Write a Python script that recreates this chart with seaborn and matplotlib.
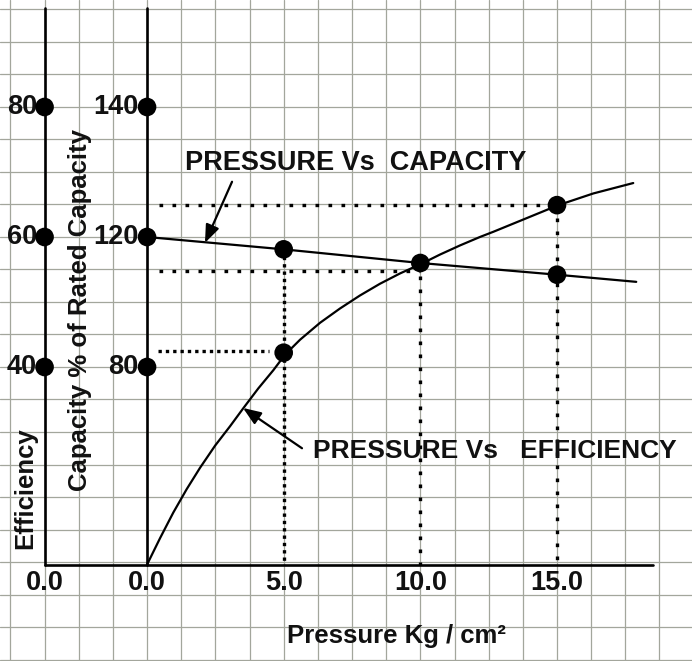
import numpy as np
import pandas as pd
import matplotlib
matplotlib.use("Agg")
import matplotlib.pyplot as plt
import seaborn as sns

# ---- data (x = pressure, y = position on the efficiency scale) ----
eff_pressure = [0.0, 0.48, 0.96, 1.45, 1.94, 2.49, 3.04, 3.53, 4.07, 4.62, 5.05,
                5.60, 6.33, 7.06, 7.79, 8.52, 9.26, 10.05, 10.72, 11.45, 12.18,
                12.67, 13.89, 15.05, 16.33, 17.79]
eff_values = [9.6, 13.7, 17.6, 21.2, 24.5, 27.9, 30.9, 33.7, 36.7, 39.5, 41.9,
              44.2, 46.8, 49.0, 51.0, 52.8, 54.4, 55.9, 57.3, 58.7, 60.0,
              60.8, 62.9, 64.9, 66.7, 68.3]

cap_pressure = [0.0, 5.0, 10.0, 15.0, 17.9]
cap_values = [60.0, 58.1, 56.0, 54.2, 53.1]

cap_pts_x = [5.0, 10.0, 15.0]
cap_pts_y = [58.1, 56.0, 54.2]
eff_pts_x = [5.0, 15.0]
eff_pts_y = [42.2, 64.9]

eff_tick_pos = [80, 60, 40]
eff_tick_labels = ["80", "60", "40"]
cap_tick_labels = ["140", "120", "80"]
x_tick_pos = [5.0, 10.0, 15.0]
x_tick_labels = ["5.0", "10.0", "15.0"]

EFF_AXIS_X = -3.75
BASE_Y = 9.6

sns.set_theme(style="white")
plt.rcParams["font.family"] = ["Liberation Sans", "DejaVu Sans"]

fig = plt.figure(figsize=(6.92, 6.61), dpi=100)
ax = fig.add_axes([0, 0, 1, 1])
ax.set_xlim(-5.38, 19.94)
ax.set_ylim(-5.23, 96.46)
fig.patch.set_facecolor("white")
ax.set_facecolor("white")

# graph-paper grid
ax.set_xticks(np.arange(-5.0, 19.9, 1.25))
ax.set_yticks(np.arange(-5.0, 96.0, 5.0))
ax.tick_params(length=0, labelbottom=False, labelleft=False)
ax.grid(True, color="#a3a69c", linewidth=0.9)
for s in ax.spines.values():
    s.set_visible(False)

lw_axis = 1.9
# axes lines
ax.plot([EFF_AXIS_X, EFF_AXIS_X], [BASE_Y, 95.3], color="black", lw=lw_axis, zorder=3)
ax.plot([0, 0], [BASE_Y, 95.3], color="black", lw=lw_axis, zorder=3)
ax.plot([EFF_AXIS_X, 18.5], [BASE_Y, BASE_Y], color="black", lw=lw_axis, zorder=3)

# dotted guide lines
sparse = dict(color="black", lw=2.4, linestyle=(0, (1.1, 2.8)), zorder=2)
dense = dict(color="black", lw=2.4, linestyle=(0, (1.0, 1.2)), zorder=2)
ax.plot([0.45, 15.0], [64.9, 64.9], **sparse)
ax.plot([15.0, 15.0], [64.9, BASE_Y], **sparse)
ax.plot([0.45, 10.0], [54.8, 54.8], **sparse)
ax.plot([10.0, 10.0], [56.0, BASE_Y], **sparse)
ax.plot([0.40, 4.45], [42.5, 42.5], **dense)
ax.plot([5.0, 5.0], [58.1, BASE_Y], **dense)

# curves
eff_df = pd.DataFrame({"p": eff_pressure, "v": eff_values})
cap_df = pd.DataFrame({"p": cap_pressure, "v": cap_values})
sns.lineplot(data=eff_df, x="p", y="v", ax=ax, color="black", lw=1.6, zorder=4)
sns.lineplot(data=cap_df, x="p", y="v", ax=ax, color="black", lw=1.6, zorder=4)

# points
pts = pd.DataFrame({"p": cap_pts_x + eff_pts_x, "v": cap_pts_y + eff_pts_y})
sns.scatterplot(data=pts, x="p", y="v", ax=ax, color="black", s=180, zorder=5, edgecolor="none")

# tick markers on the two vertical axes
tk = pd.DataFrame({"p": [EFF_AXIS_X] * 3 + [0.0] * 3, "v": eff_tick_pos * 2})
sns.scatterplot(data=tk, x="p", y="v", ax=ax, color="black", s=180, zorder=5, edgecolor="none")

ax.set_xlabel("")
ax.set_ylabel("")

fs = 19.5
fs_lab = 18.5
bold = dict(fontweight="bold", color="#111111")
for pos, lab in zip(eff_tick_pos, eff_tick_labels):
    ax.text(EFF_AXIS_X - 0.28, pos, lab, ha="right", va="center", fontsize=fs, **bold)
for pos, lab in zip(eff_tick_pos, cap_tick_labels):
    ax.text(-0.32, pos, lab, ha="right", va="center", fontsize=fs, **bold)

ax.text(EFF_AXIS_X, 6.8, "0.0", ha="center", va="center", fontsize=fs, **bold)
ax.text(0.0, 6.8, "0.0", ha="center", va="center", fontsize=fs, **bold)
for pos, lab in zip(x_tick_pos, x_tick_labels):
    ax.text(pos, 6.8, lab, ha="center", va="center", fontsize=fs, **bold)

ax.text(9.11, -1.4, "Pressure Kg / cm²", ha="center", va="center", fontsize=fs_lab, **bold)
ax.text(-4.46, 21.4, "Efficiency", ha="center", va="center", rotation=90, fontsize=fs_lab, **bold)
ax.text(-2.45, 48.8, "Capacity % of Rated Capacity", ha="center", va="center",
        rotation=90, fontsize=fs_lab, **bold)

ax.text(1.39, 71.4, "PRESSURE Vs  CAPACITY", ha="left", va="center", fontsize=fs, **bold)
ax.text(6.07, 27.1, "PRESSURE Vs   EFFICIENCY", ha="left", va="center", fontsize=19, **bold)

arrow = dict(arrowstyle="-|>,head_length=0.9,head_width=0.35", color="black", lw=1.6,
             shrinkA=0, shrinkB=0)
ax.annotate("", xy=(2.12, 59.1), xytext=(3.11, 68.5), arrowprops=arrow, zorder=6)
ax.annotate("", xy=(3.51, 33.7), xytext=(5.67, 27.5), arrowprops=arrow, zorder=6)

fig.savefig("out.png", dpi=100)
